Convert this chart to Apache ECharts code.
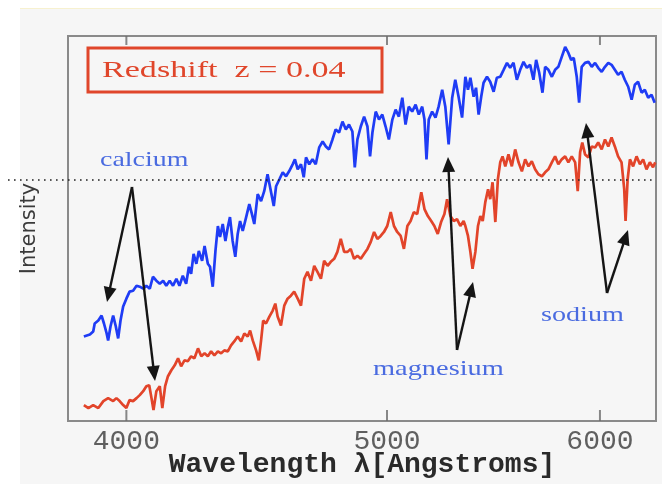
<!DOCTYPE html>
<html>
<head>
<meta charset="utf-8">
<script src="https://cdn.jsdelivr.net/npm/echarts@6.0.0/dist/echarts.min.js"></script>
<style>
  html, body { margin: 0; padding: 0; background: #ffffff; }
  #chart { width: 662px; height: 484px; }
</style>
</head>
<body>
<div id="chart"></div>
<script>
// Galaxy spectrum at rest (blue) and the same spectrum redshifted by z = 0.04 (red).
// Wavelengths in Angstroms, intensity in arbitrary units.
const restWave = [
  3857,3877,3888,3893,3905,3916,3924,3933,3938,3946,
  3955,3964,3972,3980,3989,4000,4011,4023,4035,4046,
  4058,4069,4081,4092,4104,4116,4128,4139,4151,4163,
  4175,4186,4198,4210,4220,4228,4237,4247,4256,4268,
  4277,4289,4297,4307,4317,4326,4334,4344,4354,4363,
  4371,4381,4391,4400,4409,4419,4432,4444,4454,4463,
  4476,4489,4501,4514,4538,4547,4560,4573,4586,4598,
  4612,4621,4632,4645,4656,4665,4678,4691,4704,4718,
  4732,4745,4758,4772,4785,4799,4813,4827,4840,4854,
  4864,4875,4889,4903,4917,4928,4938,4952,4966,4980,
  4994,5008,5023,5037,5051,5066,5080,5094,5109,5124,
  5138,5153,5163,5172,5182,5197,5212,5226,5242,5256,
  5271,5287,5301,5316,5332,5347,5359,5370,5385,5396,
  5408,5420,5431,5447,5462,5478,5493,5509,5525,5541,
  5556,5572,5588,5604,5620,5636,5652,5668,5681,5696,
  5712,5725,5741,5758,5774,5790,5807,5824,5840,5854,
  5867,5882,5894,5907,5924,5941,5958,5975,5991,6009,
  6026,6043,6060,6077,6094,6112,6129,6147,6165,6182,
  6199,6218,6235,6253,6271,6288
];
const restFlux = [
  85,87,90,98,101,106,98,88,81,95,
  106,95,83,101,115,123,130,131,136,135,
  133,136,133,145,141,138,141,136,141,136,
  143,136,146,138,155,148,168,158,171,161,
  176,158,155,135,171,196,185,198,181,195,
  205,181,165,188,201,191,205,218,208,198,
  228,221,231,248,216,236,243,250,246,251,
  258,263,253,258,245,265,258,263,258,275,
  281,276,273,283,293,290,301,293,298,291,
  255,283,296,306,296,266,290,311,303,308,
  296,283,303,313,306,325,298,316,311,318,
  308,316,303,263,303,311,305,316,333,316,
  278,325,343,326,305,346,333,345,326,335,
  308,326,340,346,341,331,345,346,353,360,
  355,360,343,353,361,355,358,343,363,350,
  330,356,353,346,353,356,366,376,370,363,
  365,346,320,356,360,361,356,360,355,351,
  356,360,358,353,348,351,343,336,323,338,
  341,330,333,325,328,320
];
const shiftWave = [
  3857,3872,3888,3905,3922,3938,3955,3966,3977,3989,
  4000,4011,4023,4035,4046,4058,4069,4079,4087,4094,
  4104,4116,4125,4135,4145,4157,4169,4181,4192,4204,
  4216,4228,4240,4253,4265,4277,4289,4301,4313,4326,
  4338,4350,4363,4375,4387,4400,4413,4425,4438,4447,
  4457,4470,4480,4489,4497,4508,4521,4534,4544,4553,
  4566,4579,4592,4605,4618,4632,4645,4658,4671,4685,
  4698,4711,4725,4738,4752,4765,4779,4792,4806,4820,
  4834,4847,4861,4875,4889,4903,4917,4931,4945,4959,
  4973,4987,5001,5016,5030,5044,5059,5073,5088,5102,
  5116,5131,5149,5163,5178,5193,5207,5222,5237,5252,
  5264,5279,5294,5309,5324,5339,5347,5359,5370,5380,
  5393,5405,5416,5427,5439,5452,5462,5473,5486,5498,
  5509,5520,5533,5548,5564,5580,5596,5612,5628,5644,
  5660,5676,5692,5709,5725,5741,5758,5774,5790,5807,
  5824,5840,5857,5874,5887,5899,5910,5924,5941,5958,
  5975,5991,6009,6026,6043,6060,6077,6094,6112,6126,
  6133,6144,6156,6173,6191,6209,6226,6244,6262,6279,
  6291
];
const shiftFlux = [
  16,13,16,13,20,23,20,23,20,16,
  13,21,20,23,26,30,35,36,23,11,
  30,35,13,35,45,51,56,63,55,61,
  60,65,63,73,65,68,65,70,66,70,
  68,71,70,76,80,85,80,88,85,91,
  81,71,61,81,101,98,105,111,118,105,
  96,116,123,126,130,123,116,143,150,141,
  156,150,143,161,156,160,163,170,183,170,
  170,173,163,166,163,168,173,180,190,183,
  186,190,196,210,196,190,186,173,196,201,
  210,208,230,213,206,201,196,188,200,208,
  223,206,201,203,196,201,196,186,170,153,
  170,196,206,201,220,233,223,240,200,243,
  260,266,256,268,256,273,260,251,263,256,
  261,253,248,246,250,253,260,266,258,263,
  266,260,266,260,231,270,280,268,265,276,
  275,280,273,283,276,285,276,266,260,233,
  201,243,263,256,266,258,263,253,260,255,
  260
];
const tickWaves = [4000, 5000, 6000];
const tickLabels = ['4000', '5000', '6000'];
const waveMin = 3805, waveMax = 6295;
const fluxMin = 0, fluxMax = 387;

const pairs = (xs, ys) => xs.map((x, i) => [x, ys[i]]);

// Straight black arrow with a filled triangular head.
function arrow(x1, y1, x2, y2) {
  const dx = x2 - x1, dy = y2 - y1, len = Math.hypot(dx, dy);
  const ux = dx / len, uy = dy / len;
  const hl = 15, hw = 6.5;
  const bx = x2 - ux * hl, by = y2 - uy * hl;
  return [
    { type: 'line', z: 50, silent: true,
      shape: { x1: x1, y1: y1, x2: bx + ux * 2, y2: by + uy * 2 },
      style: { stroke: '#151515', lineWidth: 2.4 } },
    { type: 'polygon', z: 50, silent: true,
      shape: { points: [[x2, y2], [bx - uy * hw, by + ux * hw], [bx + uy * hw, by - ux * hw]] },
      style: { fill: '#151515' } }
  ];
}

function label(text, x, y, size, sx, color) {
  return { type: 'text', x: x, y: y, scaleX: sx, z: 50, silent: true,
    style: { text: text, fontFamily: 'Liberation Serif', fontSize: size,
             fill: color, align: 'left', verticalAlign: 'middle' } };
}

const chart = echarts.init(document.getElementById('chart'));

chart.setOption({
  animation: false,
  backgroundColor: '#ffffff',
  grid: { left: 68, right: 6, top: 36, bottom: 61, show: true,
          borderColor: '#8a8a8a', borderWidth: 2, backgroundColor: 'transparent' },
  xAxis: {
    type: 'log', logBase: 10, min: waveMin, max: waveMax,
    axisLine: { show: false }, axisTick: { show: false },
    axisLabel: { show: false }, splitLine: { show: false },
    name: 'Wavelength \u03bb[Angstroms]', nameLocation: 'middle', nameGap: 30,
    nameTextStyle: { fontFamily: 'Liberation Mono', fontWeight: 'bold',
                     fontSize: 28, color: '#2a2a2a' }
  },
  yAxis: {
    type: 'value', min: fluxMin, max: fluxMax,
    axisLine: { show: false }, axisTick: { show: false },
    axisLabel: { show: false }, splitLine: { show: false },
    name: 'Intensity', nameLocation: 'middle', nameRotate: 90, nameGap: 28,
    nameTextStyle: { fontFamily: 'DejaVu Sans', fontSize: 21, color: '#3a3a3a' }
  },
  graphic: [
    { type: 'rect', z: -10, silent: true, shape: { x: 20, y: 8, width: 642, height: 476 },
      style: { fill: '#f6f6f6' } },
    { type: 'line', z: -9, silent: true, shape: { x1: 20, y1: 8.5, x2: 662, y2: 8.5 },
      style: { stroke: '#f7f1cf', lineWidth: 1 } },
    { type: 'rect', z: 50, silent: true, shape: { x: 88, y: 48, width: 294, height: 44 },
      style: { fill: 'none', stroke: '#e0462b', lineWidth: 3 } },
    label('Redshift  z = 0.04', 102, 71, 24, 1.42, '#e0462b'),
    label('calcium', 100, 160, 22, 1.27, '#4a6be0'),
    label('magnesium', 373, 369, 22, 1.29, '#4a6be0'),
    label('sodium', 541, 315, 22, 1.28, '#4a6be0'),
    ...arrow(132, 187, 107, 302),
    ...arrow(132, 187, 155, 381),
    ...arrow(457, 350, 448, 157),
    ...arrow(457, 350, 473, 282),
    ...arrow(607, 293, 586, 123),
    ...arrow(607, 293, 628, 230),
    { type: 'line', z: 60, silent: true, shape: { x1: 8, y1: 180, x2: 656, y2: 180 },
      style: { stroke: '#222222', lineWidth: 1.6, lineDash: [1.6, 4.4] } }
  ],
  series: [
    { name: 'rest', type: 'line', data: pairs(restWave, restFlux), showSymbol: false,
      lineStyle: { color: '#1f3cf5', width: 2.7 }, z: 5 },
    { name: 'redshifted', type: 'line', data: pairs(shiftWave, shiftFlux), showSymbol: false,
      lineStyle: { color: '#e2442a', width: 2.7 }, z: 5 },
    // tick marks along the bottom and top frame
    { type: 'scatter', data: tickWaves.map(w => [w, fluxMin]), symbol: 'rect',
      symbolSize: [2, 11], symbolOffset: [0, -5.5], clip: false, silent: true,
      itemStyle: { color: '#6b6b6b' }, z: 4 },
    { type: 'scatter', data: tickWaves.map(w => [w, fluxMax]), symbol: 'rect',
      symbolSize: [2, 9], symbolOffset: [0, 4.5], clip: false, silent: true,
      itemStyle: { color: '#6b6b6b' }, z: 4 },
    // tick labels
    { type: 'scatter', symbolSize: 1, clip: false, silent: true,
      itemStyle: { color: 'rgba(0,0,0,0)' },
      data: tickWaves.map((w, i) => ({ value: [w, fluxMin], label: { formatter: tickLabels[i] } })),
      label: { show: true, position: 'bottom', distance: 6,
               fontFamily: 'Liberation Mono', fontSize: 28, color: '#3a3a3a' } }
  ]
});
</script>
</body>
</html>
